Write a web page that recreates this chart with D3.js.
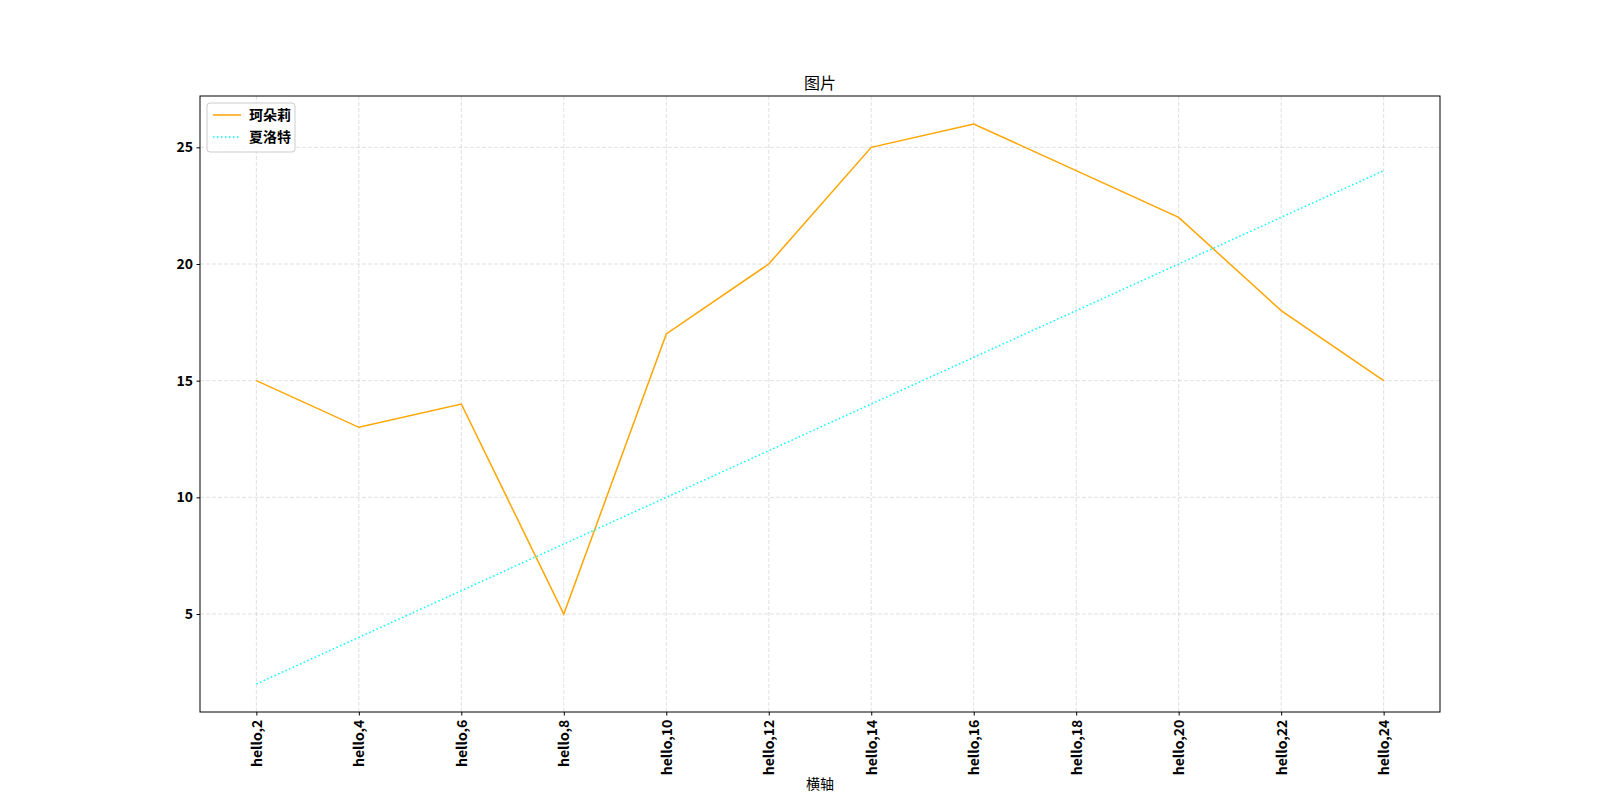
<!DOCTYPE html>
<html><head><meta charset="utf-8">
<script src="https://cdn.jsdelivr.net/npm/d3@7"></script>
<style>body{margin:0;background:#fff}svg{display:block}</style>
</head><body>
<script>
const categories = ["hello,2","hello,4","hello,6","hello,8","hello,10","hello,12","hello,14","hello,16","hello,18","hello,20","hello,22","hello,24"];
const seriesA = [15,13,14,5,17,20,25,26,24,22,18,15];
const seriesB = [2,4,6,8,10,12,14,16,18,20,22,24];
const seriesNames = ["珂朵莉","夏洛特"];
const yTicks = [5,10,15,20,25];
const titleText = "图片";
const xLabelText = "横轴";

const W=1600,H=800;
const L=200,R=1440,T=96,B=712;
const font = "'Noto Sans CJK SC','Noto Sans',sans-serif";
const svg = d3.select("body").append("svg").attr("width",W).attr("height",H);
const x = d3.scaleLinear().domain([-0.55, categories.length-1+0.55]).range([L,R]);
const y = d3.scaleLinear().domain([0.8, 27.2]).range([B,T]);

// grid
const g = svg.append("g");
g.selectAll(".vg").data(categories).join("line")
 .attr("x1",(d,i)=>x(i)).attr("x2",(d,i)=>x(i)).attr("y1",T).attr("y2",B)
 .attr("stroke","#c8c8c8").attr("stroke-opacity",0.7).attr("stroke-dasharray","4,2").attr("stroke-width",0.8);
g.selectAll(".hg").data(yTicks).join("line")
 .attr("x1",L).attr("x2",R).attr("y1",d=>y(d)).attr("y2",d=>y(d))
 .attr("stroke","#c8c8c8").attr("stroke-opacity",0.7).attr("stroke-dasharray","4,2").attr("stroke-width",0.8);

// lines
const line = d3.line().x((d,i)=>x(i)).y(d=>y(d));
svg.append("path").datum(seriesA).attr("d",line).attr("fill","none").attr("stroke","#FFA500").attr("stroke-width",1.5);
svg.append("path").datum(seriesB).attr("d",line).attr("fill","none").attr("stroke","#00FFFF").attr("stroke-width",1.5).attr("stroke-dasharray","1.5,2.5");

// frame
svg.append("rect").attr("x",L).attr("y",T).attr("width",R-L).attr("height",B-T).attr("fill","none").attr("stroke","#000").attr("stroke-width",1);

// axes
const xAxis = d3.axisBottom(x).tickValues(d3.range(categories.length)).tickFormat(i=>categories[i]).tickSize(3.5).tickPadding(3.5);
const xg = svg.append("g").attr("transform",`translate(0,${B})`).call(xAxis);
xg.select(".domain").remove();
xg.selectAll("text").attr("transform","rotate(-90)").attr("text-anchor","end").attr("dx","-0.55em").attr("dy","0.35em").attr("x",0).attr("y",0)
 .style("font-family",font).style("font-size","14px").style("font-weight","bold").attr("fill","#000");
xg.selectAll("line").attr("stroke","#000");

const yAxis = d3.axisLeft(y).tickValues(yTicks).tickSize(3.5).tickPadding(3.5);
const yg = svg.append("g").attr("transform",`translate(${L},0)`).call(yAxis);
yg.select(".domain").remove();
yg.selectAll("text").style("font-family",font).style("font-size","14px").style("font-weight","bold").attr("fill","#000");
yg.selectAll("line").attr("stroke","#000");

// title and label
svg.append("text").attr("x",(L+R)/2).attr("y",T-7).attr("text-anchor","middle").style("font-family",font).style("font-size","16px").text(titleText);
svg.append("text").attr("x",(L+R)/2).attr("y",789).attr("text-anchor","middle").style("font-family",font).style("font-size","14px").text(xLabelText);

// legend
const lg = svg.append("g").attr("transform","translate(207,103)");
lg.append("rect").attr("width",88).attr("height",49).attr("rx",3).attr("fill","#fff").attr("fill-opacity",0.8).attr("stroke","#ccc");
const items=[{n:seriesNames[0],c:"#FFA500",d:null},{n:seriesNames[1],c:"#00FFFF",d:"1.5,2.5"}];
items.forEach((it,i)=>{
  const yy = 12+i*22;
  lg.append("line").attr("x1",6).attr("x2",34).attr("y1",yy).attr("y2",yy).attr("stroke",it.c).attr("stroke-width",1.5).attr("stroke-dasharray",it.d);
  lg.append("text").attr("x",42).attr("y",yy+5).style("font-family",font).style("font-size","14px").style("font-weight","bold").text(it.n);
});
</script>
</body></html>
